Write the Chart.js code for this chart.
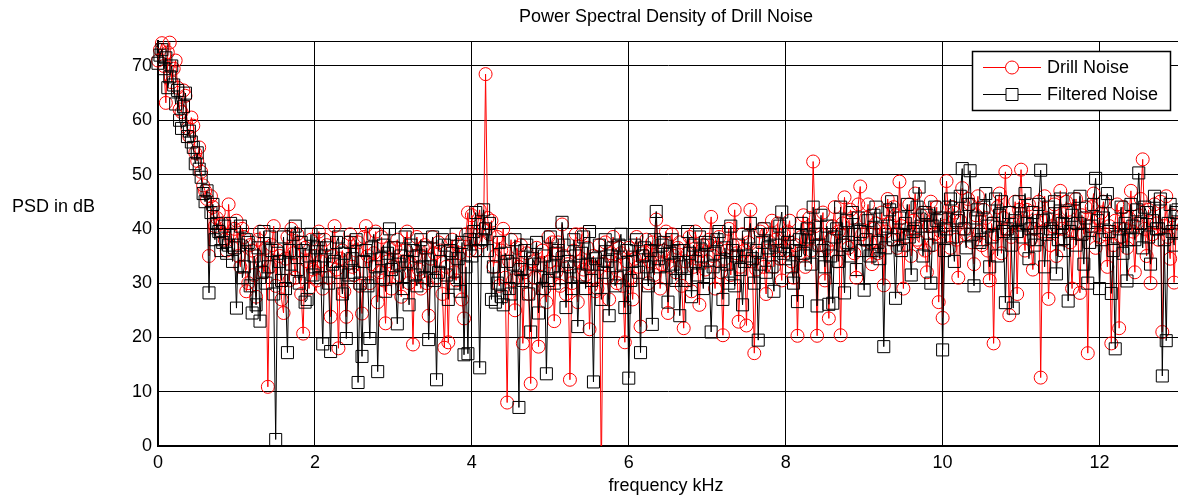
<!DOCTYPE html>
<html>
<head>
<meta charset="utf-8">
<title>Power Spectral Density of Drill Noise</title>
<script src="https://cdn.jsdelivr.net/npm/chart.js@4.4.1/dist/chart.umd.min.js"></script>
<style>
  html, body { margin: 0; padding: 0; background: #fff; }
  canvas { display: block; }
</style>
</head>
<body>
<canvas id="chart" width="1178" height="495"></canvas>
<script>
// PSD bins, one every 0.025 kHz from 0 to 13 kHz (40 bins per row below)
const freqStep = 0.025;

const drillNoise = [
    71.0, 73.0, 74.2, 70.0, 63.2, 72.5, 74.3, 67.0, 69.5, 71.0,
    66.0, 62.0, 61.5, 65.5, 64.5, 58.5, 57.0, 60.5, 59.0, 54.0,
    52.5, 55.0, 50.5, 48.0, 47.0, 45.5, 35.0, 46.0, 44.0, 40.5,
    42.0, 43.0, 39.5, 41.0, 38.0, 36.0, 44.5, 39.0, 36.5, 40.0,

    41.5, 35.0, 33.0, 40.0, 38.5, 28.5, 30.0, 37.0, 36.0, 31.5,
    27.5, 38.0, 39.5, 34.0, 32.0, 36.5, 10.9, 33.0, 37.0, 40.5,
    29.5, 36.0, 35.0, 27.0, 24.5, 34.5, 38.5, 30.5, 40.0, 35.5,
    31.0, 39.0, 37.5, 28.0, 20.7, 36.5, 34.0, 29.0, 38.0, 32.5,

    35.0, 30.5, 39.5, 34.0, 29.0, 38.0, 37.0, 31.0, 23.8, 35.0,
    40.5, 32.5, 18.0, 34.5, 36.0, 28.5, 23.8, 37.5, 39.0, 33.0,
    31.5, 36.0, 37.5, 29.5, 24.4, 38.5, 40.5, 35.0, 30.0, 33.5,
    35.5, 39.5, 26.5, 32.0, 38.5, 30.5, 22.6, 34.0, 36.5, 29.0,

    33.0, 36.5, 38.0, 31.5, 27.5, 34.0, 36.0, 39.5, 30.0, 33.5,
    18.7, 35.0, 38.5, 32.5, 29.0, 36.5, 37.0, 30.0, 24.0, 34.5,
    38.5, 35.5, 31.0, 37.5, 36.0, 28.0, 18.1, 33.0, 19.1, 35.5,
    38.0, 32.0, 30.5, 37.0, 35.5, 27.0, 23.5, 39.0, 43.0, 36.0,

    42.5, 38.0, 36.0, 41.0, 43.5, 37.5, 40.0, 68.5, 42.0, 39.0,
    41.5, 33.0, 35.0, 38.5, 29.5, 36.0, 40.0, 31.0, 8.0, 34.0,
    38.0, 30.5, 25.0, 36.5, 33.0, 37.0, 18.9, 32.0, 35.5, 28.0,
    11.5, 34.0, 31.0, 36.5, 18.3, 33.5, 36.0, 29.0, 26.5, 38.5,

    34.0, 37.5, 23.0, 32.0, 37.5, 29.5, 40.8, 35.0, 28.0, 33.5,
    12.2, 30.0, 36.0, 39.0, 26.5, 34.0, 39.0, 32.5, 31.5, 36.5,
    21.5, 33.0, 35.0, 28.5, 29.0, 37.0, -6.0, 33.5, 37.5, 31.0,
    27.0, 35.5, 38.5, 33.0, 30.0, 36.5, 35.5, 29.5, 19.1, 34.0,

    36.5, 31.0, 27.0, 34.5, 38.5, 33.0, 22.0, 35.5, 35.0, 38.0,
    30.0, 34.0, 37.5, 31.5, 41.7, 36.0, 29.0, 33.5, 36.0, 39.5,
    24.5, 33.0, 39.0, 35.0, 32.0, 36.5, 37.5, 29.5, 21.7, 34.0,
    35.5, 38.5, 28.5, 33.0, 39.5, 34.5, 26.0, 36.0, 37.0, 32.5,

    34.0, 38.0, 42.2, 35.0, 29.0, 36.5, 38.5, 32.0, 20.4, 34.5,
    36.0, 40.0, 31.5, 37.0, 43.5, 35.5, 22.9, 33.0, 39.0, 36.0,
    22.2, 37.5, 43.5, 34.0, 17.1, 32.5, 35.5, 39.5, 40.0, 33.0,
    28.0, 36.0, 37.5, 41.5, 33.0, 38.0, 41.0, 34.5, 30.5, 39.0,

    36.0, 39.5, 41.5, 34.0, 31.0, 37.0, 20.3, 35.5, 38.5, 42.5,
    33.0, 38.0, 42.0, 36.0, 52.4, 40.5, 20.3, 37.0, 39.0, 43.0,
    30.5, 36.5, 23.5, 38.0, 40.5, 44.0, 34.0, 39.5, 20.4, 41.0,
    45.8, 37.0, 36.5, 43.5, 42.0, 35.5, 31.0, 44.5, 47.8, 39.0,

    38.0, 42.0, 44.5, 37.5, 33.5, 40.0, 41.0, 35.5, 36.0, 43.0,
    29.6, 39.5, 45.5, 41.0, 38.0, 44.0, 42.5, 36.5, 48.7, 40.5,
    29.0, 38.5, 40.0, 44.5, 35.0, 41.5, 46.5, 38.0, 37.5, 42.5,
    43.0, 36.0, 32.0, 40.5, 45.0, 37.0, 39.0, 44.0, 26.5, 39.5,

    23.6, 40.5, 48.8, 42.0, 36.5, 44.0, 43.0, 38.0, 31.0, 41.5,
    47.5, 40.0, 39.0, 45.5, 44.5, 37.5, 33.5, 42.5, 46.0, 39.5,
    37.0, 43.5, 42.0, 36.0, 30.5, 41.0, 18.9, 39.0, 44.0, 46.5,
    35.5, 42.0, 50.5, 40.0, 24.1, 38.5, 41.0, 45.0, 28.0, 43.5,

    50.9, 41.0, 36.0, 43.5, 44.5, 38.0, 32.5, 40.0, 41.5, 45.0,
    12.6, 39.5, 46.0, 42.0, 27.1, 37.0, 40.5, 44.5, 35.0, 41.5,
    47.0, 40.0, 38.0, 45.0, 43.5, 37.5, 29.0, 41.0, 45.5, 39.0,
    28.2, 42.5, 39.0, 44.0, 17.1, 40.5, 44.0, 46.5, 36.5, 42.0,

    38.5, 43.0, 45.0, 39.0, 33.0, 40.5, 18.9, 37.0, 41.5, 44.5,
    21.7, 38.5, 44.0, 40.0, 36.5, 42.0, 47.0, 39.5, 32.0, 41.0,
    42.5, 45.5, 52.8, 40.0, 35.0, 43.5, 30.0, 39.0, 44.5, 41.0,
    38.0, 45.0, 21.0, 40.5, 46.0, 38.5, 34.5, 42.5, 30.1, 39.5,

    41.0
];

const filteredNoise = [
    70.5, 72.0, 73.0, 69.5, 71.5, 66.0, 68.0, 70.0, 66.5, 63.0,
    65.5, 60.0, 58.5, 62.5, 65.0, 57.0, 58.0, 56.0, 55.0, 52.0,
    54.0, 51.0, 49.5, 46.5, 45.0, 47.0, 28.2, 43.0, 44.5, 38.0,
    41.0, 39.5, 36.0, 37.5, 40.5, 35.5, 37.0, 41.0, 34.0, 36.5,

    25.4, 37.0, 40.5, 31.0, 33.0, 38.0, 37.5, 29.5, 24.5, 35.0,
    26.0, 36.5, 23.0, 32.0, 39.5, 30.0, 33.0, 38.5, 36.0, 28.0,
    1.2, 35.5, 34.0, 30.5, 38.5, 29.0, 17.2, 36.0, 33.5, 39.0,
    40.5, 32.5, 30.0, 37.5, 36.0, 26.5, 27.0, 35.0, 39.0, 31.5,

    33.0, 36.5, 38.0, 31.0, 18.8, 35.0, 36.5, 30.0, 17.4, 33.5,
    34.0, 37.5, 38.5, 32.0, 28.0, 35.5, 19.8, 31.5, 37.5, 34.5,
    32.0, 38.0, 11.7, 30.0, 16.5, 34.0, 36.0, 29.5, 19.8, 36.5,
    39.0, 33.0, 13.7, 31.0, 34.5, 37.0, 28.5, 35.5, 40.0, 32.5,

    36.5, 31.0, 22.5, 33.5, 35.0, 29.0, 38.5, 34.0, 26.0, 37.0,
    36.0, 31.5, 29.5, 35.0, 38.0, 33.0, 31.0, 36.5, 19.6, 33.0,
    38.5, 30.5, 12.2, 32.0, 34.0, 38.0, 37.0, 31.5, 27.0, 36.0,
    35.5, 30.0, 39.0, 34.5, 28.5, 37.5, 16.8, 33.0, 17.0, 38.0,

    35.0, 39.5, 43.0, 36.0, 14.4, 38.0, 43.5, 40.0, 36.0, 41.0,
    27.0, 33.0, 26.5, 30.0, 37.5, 27.5, 26.0, 35.5, 34.0, 29.0,
    28.0, 33.5, 38.0, 31.0, 7.1, 32.5, 30.5, 36.0, 37.0, 28.0,
    21.0, 34.5, 33.5, 37.5, 24.5, 31.0, 29.0, 35.0, 13.3, 30.5,

    38.5, 33.0, 30.0, 35.5, 36.0, 31.0, 41.2, 37.0, 25.5, 34.0,
    33.0, 29.0, 38.0, 35.0, 22.0, 31.5, 35.5, 38.5, 29.0, 33.5,
    39.5, 30.5, 11.8, 34.5, 33.5, 37.0, 27.0, 32.0, 38.0, 34.0,
    24.0, 35.0, 36.5, 29.5, 31.0, 37.0, 39.0, 33.5, 25.5, 36.0,

    12.5, 30.5, 34.0, 37.0, 38.0, 32.0, 17.2, 35.0, 36.5, 33.0,
    29.5, 36.0, 22.4, 38.0, 43.2, 34.5, 33.0, 37.0, 37.5, 31.0,
    26.5, 35.5, 38.0, 33.5, 30.5, 36.0, 24.0, 33.0, 36.0, 30.5,
    39.5, 35.5, 27.5, 37.0, 34.0, 31.5, 38.5, 35.0, 29.0, 37.5,

    37.0, 32.0, 21.0, 33.0, 35.5, 38.0, 39.5, 34.0, 27.0, 36.5,
    33.5, 30.0, 40.5, 36.0, 29.5, 35.0, 37.0, 32.5, 26.0, 34.0,
    35.0, 38.5, 41.0, 34.5, 30.0, 36.0, 19.5, 33.5, 37.5, 40.0,
    32.0, 36.5, 39.0, 33.0, 28.5, 37.0, 36.0, 40.5, 43.1, 35.5,

    34.5, 37.5, 39.0, 33.0, 30.0, 36.0, 26.6, 38.0, 41.0, 35.5,
    35.0, 40.0, 38.5, 33.5, 44.0, 39.0, 25.8, 37.0, 42.5, 36.0,
    33.0, 40.5, 26.1, 35.0, 26.3, 38.5, 40.0, 34.0, 44.0, 37.0,
    28.2, 41.5, 37.5, 35.0, 43.0, 39.0, 32.5, 42.0, 39.5, 36.0,

    28.7, 38.0, 41.5, 35.0, 36.0, 42.5, 44.0, 37.5, 34.5, 40.0,
    18.3, 36.5, 40.5, 43.5, 45.0, 38.0, 27.2, 39.0, 42.0, 36.0,
    37.0, 41.0, 44.5, 38.5, 31.5, 39.5, 40.0, 44.0, 47.7, 40.5,
    35.0, 43.0, 42.5, 37.0, 30.0, 40.5, 44.0, 41.5, 38.5, 42.0,

    17.7, 36.0, 40.0, 44.0, 45.5, 38.5, 34.0, 41.5, 42.0, 46.0,
    51.1, 40.0, 36.5, 44.5, 50.7, 39.0, 29.5, 42.0, 43.5, 37.5,
    38.0, 44.0, 46.5, 40.5, 33.0, 38.5, 41.0, 45.5, 35.0, 42.5,
    45.0, 39.5, 26.4, 40.0, 43.0, 37.0, 25.4, 41.5, 39.5, 45.0,

    42.0, 38.5, 46.5, 41.0, 34.5, 40.0, 43.0, 37.0, 38.0, 44.5,
    50.8, 41.5, 33.0, 39.0, 44.0, 40.0, 39.5, 45.0, 31.7, 38.0,
    45.5, 41.0, 36.0, 43.0, 26.7, 39.5, 42.5, 45.5, 37.0, 41.0,
    46.0, 39.0, 33.5, 42.0, 30.0, 37.5, 40.5, 44.5, 49.3, 41.5,

    29.0, 38.0, 42.0, 45.0, 46.5, 39.5, 28.1, 36.0, 17.9, 38.5,
    40.0, 44.0, 35.5, 41.0, 30.4, 38.0, 44.5, 40.5, 38.0, 43.5,
    50.3, 41.0, 36.5, 44.0, 43.0, 38.5, 33.5, 41.5, 46.0, 40.0,
    40.0, 45.5, 12.9, 38.0, 19.4, 41.0, 44.5, 39.5, 37.0, 43.0,

    43.5
];

const xTickLabels = [0, 2, 4, 6, 8, 10, 12];
const yTickLabels = [0, 10, 20, 30, 40, 50, 60, 70];

const FAMILY = '"Liberation Sans", Arial, sans-serif';
const FONT = '18px ' + FAMILY;

const toPoints = arr => arr.map((v, i) => ({ x: +(i * freqStep).toFixed(3), y: v }));

// title, axis labels, top edge and the boxed legend (MATLAB look)
const decorations = {
    id: 'decorations',
    beforeDatasetsDraw(c) {
        const ctx = c.ctx, area = c.chartArea;
        ctx.save();
        ctx.strokeStyle = '#000';
        ctx.lineWidth = 1;
        ctx.beginPath();
        ctx.moveTo(area.left, area.top + 0.5);
        ctx.lineTo(area.right, area.top + 0.5);
        ctx.stroke();
        ctx.restore();
    },
    afterDraw(c) {
        const ctx = c.ctx, area = c.chartArea;
        const cx = (area.left + area.right) / 2 - 2;
        ctx.save();
        ctx.fillStyle = '#000';
        ctx.font = FONT;
        ctx.textBaseline = 'middle';
        ctx.textAlign = 'center';
        ctx.fillText('Power Spectral Density of Drill Noise', cx, 17);
        ctx.fillText('frequency kHz', cx, 486);
        ctx.textAlign = 'left';
        ctx.fillText('PSD in dB', 12, 207);

        // legend
        const lx = 972, ly = 51, lw = 198, lh = 59;
        ctx.fillStyle = '#fff';
        ctx.fillRect(lx, ly, lw, lh);
        ctx.strokeStyle = '#000';
        ctx.lineWidth = 1.5;
        ctx.strokeRect(lx + 0.5, ly + 0.5, lw, lh);

        const rows = [
            { label: 'Drill Noise', color: '#ff0000', y: 67.5, marker: 'circle' },
            { label: 'Filtered Noise', color: '#000000', y: 94.5, marker: 'rect' }
        ];
        rows.forEach(r => {
            ctx.strokeStyle = r.color;
            ctx.lineWidth = 1;
            ctx.beginPath();
            ctx.moveTo(983, r.y);
            ctx.lineTo(1041, r.y);
            ctx.stroke();
            ctx.beginPath();
            if (r.marker === 'circle') {
                ctx.arc(1012, r.y, 6.5, 0, Math.PI * 2);
            } else {
                ctx.rect(1006, r.y - 6, 12, 12);
            }
            ctx.fillStyle = '#fff';
            ctx.fill();
            ctx.stroke();
            ctx.fillStyle = '#000';
            ctx.fillText(r.label, 1047, r.y + 1);
        });
        ctx.restore();
    }
};

new Chart(document.querySelector('#chart').getContext('2d'), {
    type: 'line',
    data: {
        datasets: [
            {
                label: 'Drill Noise',
                data: toPoints(drillNoise),
                borderColor: '#ff0000',
                borderWidth: 1,
                pointStyle: 'circle',
                pointRadius: 6.5,
                pointBorderWidth: 1,
                pointBorderColor: '#ff0000',
                pointBackgroundColor: 'rgba(0,0,0,0)',
                tension: 0,
                order: 2,
                clip: { left: 8, top: 10, right: 0, bottom: 0 }
            },
            {
                label: 'Filtered Noise',
                data: toPoints(filteredNoise),
                borderColor: '#000000',
                borderWidth: 1,
                pointStyle: 'rect',
                pointRadius: 8.5,
                pointBorderWidth: 1,
                pointBorderColor: '#000000',
                pointBackgroundColor: 'rgba(0,0,0,0)',
                tension: 0,
                order: 1,
                clip: { left: 8, top: 10, right: 0, bottom: 0 }
            }
        ]
    },
    options: {
        responsive: false,
        animation: false,
        devicePixelRatio: 1,
        layout: { autoPadding: false, padding: { top: 41, left: 0, right: 0, bottom: 0 } },
        plugins: {
            legend: { display: false },
            title: { display: false },
            tooltip: { enabled: false }
        },
        scales: {
            x: {
                type: 'linear',
                min: 0,
                max: 13,
                afterBuildTicks: s => { s.ticks = xTickLabels.map(v => ({ value: v })); },
                afterFit: s => { s.height = 49; s.paddingRight = 0; s.paddingLeft = 0; },
                grid: { color: '#000', lineWidth: 1, drawTicks: false },
                border: { display: true, color: '#000', width: 2 },
                ticks: { color: '#000', font: { family: FAMILY, size: 18 }, padding: 6, maxRotation: 0 }
            },
            y: {
                min: 0,
                max: 74.6,
                afterBuildTicks: s => { s.ticks = yTickLabels.map(v => ({ value: v })); },
                afterFit: s => { s.width = 158; },
                grid: { color: '#000', lineWidth: 1, drawTicks: false },
                border: { display: true, color: '#000', width: 2 },
                ticks: { color: '#000', font: { family: FAMILY, size: 18 }, padding: 6 }
            }
        }
    },
    plugins: [decorations]
});
</script>
</body>
</html>
